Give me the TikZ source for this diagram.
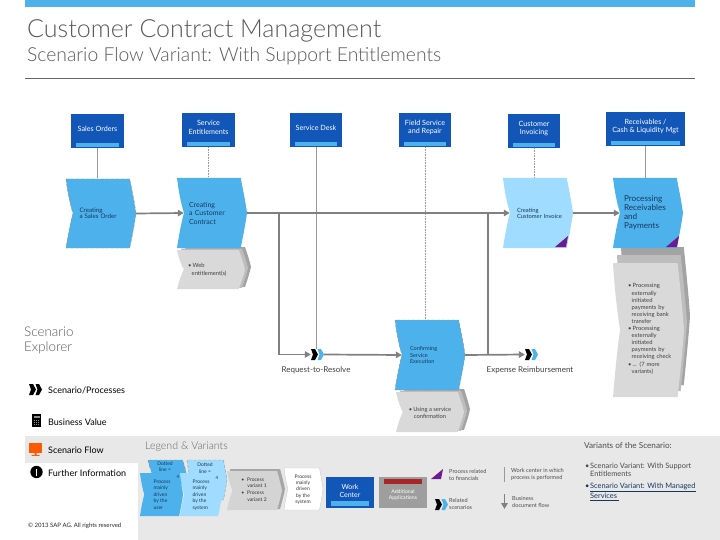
\documentclass[tikz,border=0pt]{standalone}
\usepackage{fontspec}
\setmainfont{Lato}
\newfontfamily\thinfont{Lato Light}
\usetikzlibrary{arrows.meta}
\definecolor{sapblue}{HTML}{4DB2EC}
\definecolor{sapdark}{HTML}{1257B8}
\definecolor{saplight}{HTML}{A0DCFF}
\definecolor{sappanel}{HTML}{E8E8E8}
\definecolor{saptext}{HTML}{17375E}
\definecolor{sapline}{HTML}{808080}
\definecolor{sappurple}{HTML}{6F1A8F}
\tikzset{
  headbox/.style={fill=sapdark,minimum width=#1,minimum height=34pt,inner sep=0pt},
  headtext/.style={text=white,font=\fontsize{7.2}{8.6}\selectfont,align=center,inner sep=0pt},
  chevtext/.style={text=saptext,align=left,inner sep=0pt,minimum width=70pt,minimum height=70pt},
  doctext/.style={text=black!75,align=left,inner sep=0pt,font=\fontsize{5.8}{7.1}\selectfont},
  flow/.style={draw=sapline,line width=1.7pt},
  flowto/.style={flow,-{Triangle[length=6pt,width=6.5pt]}},
  owner/.style={draw=black!40,line width=0.6pt},
  sidetext/.style={anchor=west,inner sep=0pt,font=\fontsize{9}{11}\selectfont},
  legendtext/.style={anchor=west,align=left,inner sep=0pt,text=black!70,font=\fontsize{5.6}{7}\selectfont},
}
\newcommand\Bul{\makebox[4.5pt][l]{\textbullet}}
\newcommand\Ind{\hspace*{3.5pt}}
% x, y, width, height, look
\newcommand\ChevShape[5]{
  \path[#5,shift={(#1,#2)},x=1pt*(#3),y=-1pt*(#4)] (0,0) .. controls (.03,.25) and (.07,.4) .. (.1,.5)
    .. controls (.07,.6) and (.03,.8) .. (0,1) -- (.91,1) .. controls (.95,.8) and (.98,.65) .. (1,.5)
    .. controls (.98,.35) and (.95,.2) .. (.91,0) -- cycle;
}
% name, x, y, second colour
\newcommand\RelIcon[4]{
  \fill[black] (#2,#3) -- (#2+4,#3) -- (#2+7,#3+5.5) -- (#2+4,#3+11) -- (#2,#3+11) -- (#2+2,#3+5.5) -- cycle;
  \fill[#4] (#2+6.5,#3) -- (#2+10,#3) -- (#2+13,#3+5.5) -- (#2+10,#3+11) -- (#2+6.5,#3+11) -- (#2+8.5,#3+5.5) -- cycle;
  \node[inner sep=0pt,minimum width=13pt,minimum height=11pt] (#1) at (#2+6.5,#3+5.5) {};
}
% name, x, y, width, text
\newcommand\HeadBox[5]{
  \node[headbox=#4] (#1) at (#2+#4/2,#3+17) {};
  \fill[sapblue] (#2+5,#3+29) rectangle (#2+#4-5,#3+33);
  \node[headtext] (#1Txt) at (#2+#4/2,#3+14.5) {#5};
}
% x, y, width, height, y step
\newcommand\DocStack[5]{
  \ChevShape{#1+8}{#2}{#3-2}{#4-1.5*#5}{fill=black!36}
  \ChevShape{#1+4}{#2+#5}{#3-1}{#4-1.75*#5}{fill=black!26}
  \ChevShape{#1}{#2+2*#5}{#3}{#4-2*#5}{fill=black!15}
}
\begin{document}
\begin{tikzpicture}[x=1pt,y=-1pt]
  \useasboundingbox (0,0) rectangle (720,540);

  % frame and titles
  \fill[sapblue] (25,0) rectangle (695,7);
  \node[anchor=base west,inner sep=0pt,text=black!65,font=\thinfont\fontsize{25}{30}\selectfont] (title) at (27,38) {Customer Contract Management};
  \node[anchor=base west,inner sep=0pt,text=black!65,font=\thinfont\fontsize{19.3}{23}\selectfont] (subtitle) at (27,62) {Scenario Flow Variant: With Support Entitlements};
  \draw[black!60,line width=0.7pt] (25,78.5) -- (695,78.5);

  % bottom panel
  \fill[sappanel] (25,436) -- (720,436) -- (720,540) -- (138,540) -- (138,463) -- (25,463) -- cycle;

  % headers
  \HeadBox{salesHd}{71}{114}{53}{Sales Orders}
  \HeadBox{entitleHd}{182}{113}{53}{Service\\Entitlements}
  \HeadBox{deskHd}{290}{113}{52}{Service Desk}
  \HeadBox{fieldHd}{399}{113}{52}{Field Service\\and Repair}
  \HeadBox{invoiceHd}{508}{114}{52}{Customer\\Invoicing}
  \HeadBox{cashHd}{606}{112}{79}{Receivables /\\Cash \& Liquidity Mgt}

  % stacks go behind the steps
  \DocStack{177}{247}{68}{42}{1.5}
  \DocStack{396}{389}{68}{43}{1.5}
  \DocStack{613}{247}{71}{150}{8}

  % steps
  \ChevShape{66}{179}{70}{69}{fill=sapblue,draw=black!45,densely dashed}
  \node[chevtext,text width=43pt,font=\fontsize{6.2}{6.5}\selectfont] (order) at (101,213.5) {Creating\\a Sales Order};
  \ChevShape{177}{178}{70}{70}{fill=sapblue}
  \node[chevtext,text width=46pt,font=\fontsize{7}{8.5}\selectfont] (contract) at (212,213) {Creating\\a Customer\\Contract};
  \ChevShape{503}{178}{70}{70}{fill=saplight}
  \fill[sappurple] (555,247) -- (568,236) -- (566,247) -- cycle;
  \node[chevtext,text width=42pt,font=\fontsize{5.8}{6.2}\selectfont] (invoice) at (538,213) {Creating\\\mbox{Customer Invoice}};
  \ChevShape{613}{178}{70}{70}{fill=sapblue}
  \fill[sappurple] (666,247) -- (679,236) -- (677,247) -- cycle;
  \node[chevtext,text width=48pt,font=\fontsize{8.2}{8.9}\selectfont] (receive) at (648,213) {Processing\\Receivables\\and\\Payments};
  \ChevShape{395}{320}{70}{70}{fill=sapblue,draw=black!45,densely dashed}
  \node[chevtext,text width=40pt,font=\fontsize{5.6}{6.5}\selectfont] (confirm) at (430,355) {Confirming\\Service\\Execution};

  % stack texts
  \node[doctext,anchor=north west] (webTxt) at (188,263.5) {\Bul Web\\\Ind entitlement(s)};
  \node[doctext,align=center] (usingTxt) at (430,412.5) {\Bul Using a service\\confirmation};
  \node[doctext,anchor=north west,text width=48pt] (payTxt) at (628,283.5) {\Bul Processing\\\Ind externally\\\Ind initiated\\\Ind payments by\\\Ind receiving bank\\\Ind transfer\\\Bul Processing\\\Ind externally\\\Ind initiated\\\Ind payments by\\\Ind receiving check\\\Bul ... (7 more\\\Ind variants)};

  % related scenarios
  \RelIcon{resolve}{311}{349}{sapblue}
  \RelIcon{expense}{525}{349}{sapblue}
  \node[inner sep=0pt,text=black!75,font=\fontsize{8}{10}\selectfont] (resolveTxt) at (316,370.5) {Request-to-Resolve};
  \node[inner sep=0pt,text=black!75,font=\fontsize{8}{10}\selectfont] (expenseTxt) at (530,370.5) {Expense Reimbursement};

  \coordinate (branchA) at (278.7,213);
  \coordinate (branchB) at (488,213);

  \draw[owner] (salesHd.south) -- (salesHd.south |- order.north);
  \draw[owner,densely dotted] (entitleHd.south) -- (entitleHd.south |- contract.north);
  \draw[owner] (deskHd.south) -- (deskHd.south |- resolve.north);
  \draw[owner,densely dotted] (fieldHd.south) -- (fieldHd.south |- confirm.north);
  \draw[owner,densely dotted] (invoiceHd.south) -- (invoiceHd.south |- invoice.north);
  \draw[owner] (cashHd.south) -- (cashHd.south |- receive.north);

  \draw[flowto] (order.east) -- ([xshift=7pt]contract.west); % order->contract
  \draw[flowto] (contract.east) -- ([xshift=7pt]invoice.west); % contract->invoice
  \draw[flowto] (invoice.east) -- ([xshift=7pt]receive.west); % invoice->receive
  \draw[flowto] (branchA) |- (resolve.west); % branch down
  \draw[flowto] (resolve.east) -- ([xshift=7pt]confirm.west); % resolve->confirm
  \draw[flowto] (confirm.east) -- (expense.west); % confirm->expense
  \draw[flow] (branchB) -- (branchB |- expense.west);

  % left side
  \node[anchor=north west,inner sep=0pt,align=left,text=black!65,font=\thinfont\fontsize{13.4}{15}\selectfont] (explorer) at (24,327) {Scenario\\Explorer};
  \RelIcon{sideIcon}{29}{384}{black}
  \node[sidetext] (sideProc) at (48,390) {Scenario/Processes};
  \fill[black] (32,414) rectangle (41,427);
  \fill[black!45] (33.5,415.5) rectangle (39.5,418);
  \foreach \kx in {33.5,35.5,37.5}
    \foreach \ky in {420,422,424}
      \fill[black!45] (\kx,\ky) rectangle +(1.2,1.2);
  \node[sidetext] (sideValue) at (48,422) {Business Value};
  \fill[orange!70!red] (29,442.5) rectangle (42,453);
  \fill[orange!70!red] (34.5,453) rectangle (36.5,455) (31.5,455) rectangle (39.5,455.8);
  \node[sidetext] (sideFlow) at (48,450) {Scenario Flow};
  \fill[black] (36.5,472) circle (6.2);
  \fill[white] (35.7,469) rectangle (37.3,476);
  \node[sidetext] (sideInfo) at (48,473) {Further Information};
  \node[anchor=west,inner sep=0pt,text=black!85,font=\fontsize{6}{7}\selectfont] (copy) at (28,526) {© 2013 SAP AG. All rights reserved};

  % legend
  \node[anchor=west,inner sep=0pt,text=black!60,font=\thinfont\fontsize{10.6}{12}\selectfont] (legendHd) at (145,447) {Legend \& Variants};
  \ChevShape{148}{460}{38}{24}{fill=sapblue,draw=black!45,densely dashed}
  \node[inner sep=0pt,align=center,text=saptext,font=\fontsize{5}{6.5}\selectfont] (dotA) at (165,466.5) {Dotted\\line =};
  \ChevShape{187}{460}{40}{40}{fill=saplight,draw=black!40,densely dashed}
  \node[inner sep=0pt,align=center,text=saptext,font=\fontsize{5}{6.5}\selectfont] (dotB) at (205,468) {Dotted\\line =};
  \ChevShape{140}{473}{43}{43}{fill=sapblue}
  \node[inner sep=0pt,align=left,text=saptext,font=\fontsize{5}{6.5}\selectfont] (userStep) at (162,494.5) {Process\\mainly\\driven\\by the\\user};
  \node[inner sep=0pt,text=saptext,font=\fontsize{4.5}{6}\selectfont] (markA) at (178,476.5) {4};
  \ChevShape{180}{473}{42}{43}{fill=saplight}
  \node[inner sep=0pt,align=left,text=saptext,font=\fontsize{5}{6.5}\selectfont] (sysStep) at (201,495) {Process\\mainly\\driven\\by the\\system};
  \node[inner sep=0pt,text=saptext,font=\fontsize{4.5}{6}\selectfont] (markB) at (217,477.5) {4};
  \ChevShape{230}{469}{55}{40}{fill=black!35}
  \ChevShape{227}{471}{55}{39}{fill=black!17}
  \node[inner sep=0pt,align=left,text=black!80,font=\fontsize{5}{6.8}\selectfont] (varStep) at (254,489.5) {\Bul\ Process\\\Ind\ \ variant 1\\\Bul\ Process\\\Ind\ \ variant 2};
  \ChevShape{284}{468}{39}{42}{fill=white,draw=black!20}
  \node[inner sep=0pt,align=center,text=black!80,font=\fontsize{5}{6.3}\selectfont] (whiteStep) at (303,489.5) {Process\\mainly\\driven\\by the\\system};
  \node[fill=sapdark,minimum width=48pt,minimum height=31pt,inner sep=0pt] (workBox) at (350,492.5) {};
  \fill[sapblue] (331,501) rectangle (369,506);
  \node[headtext,font=\fontsize{7}{8}\selectfont] (workTxt) at (350,490.5) {Work\\Center};
  \node[fill=black!38,minimum width=48pt,minimum height=31pt,inner sep=0pt] (addBox) at (403,492.5) {};
  \fill[red!60!black!85] (384,479) rectangle (422,484);
  \node[headtext,font=\fontsize{5.2}{6.8}\selectfont] (addTxt) at (403,495) {Additional\\Applications};
  \fill[sappurple] (431,479) -- (443,469) -- (441,479) -- cycle;
  \node[legendtext] (relFin) at (449,474.5) {Process related\\to financials};
  \RelIcon{legIcon}{435}{499}{sapblue}
  \node[legendtext] (relScen) at (449,503.5) {Related\\scenarios};
  \coordinate (ownerTop) at (504.5,467);
  \coordinate (ownerEnd) at (504.5,482);
  \draw[owner] (ownerTop) -- (ownerEnd);
  \node[legendtext] (ownerTxt) at (511,474.5) {Work center in which\\process is performed};
  \coordinate (docTop) at (504.5,494);
  \coordinate (docEnd) at (504.5,509);
  \draw[flowto] (docTop) -- (docEnd);
  \node[legendtext] (docTxt) at (512,501.5) {Business\\document flow};

  % variants
  \node[anchor=west,inner sep=0pt,text=black!70,font=\fontsize{8.2}{10}\selectfont] (variantHd) at (584,446) {Variants of the Scenario:};
  \node[anchor=north west,inner sep=0pt,align=left,text=black!70,font=\fontsize{7.4}{8}\selectfont] (varA) at (585,463) {\makebox[5pt][l]{\textbullet}Scenario Variant: With Support\\\hspace*{5pt}Entitlements};
  \node[anchor=north west,inner sep=0pt,align=left,text=saptext,font=\fontsize{7.4}{8}\selectfont] (varB) at (585,483) {\makebox[5pt][l]{\textbullet}\underline{Scenario Variant: With Managed}\\\hspace*{5pt}\underline{Services }};
\end{tikzpicture}
\end{document}
